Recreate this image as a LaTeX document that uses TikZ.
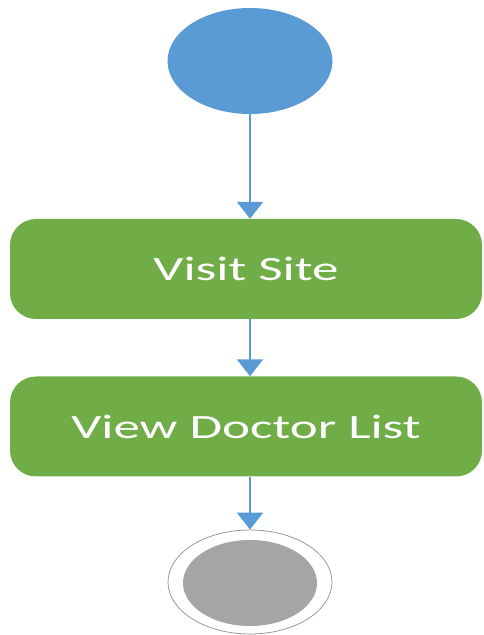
\documentclass[tikz,border=0pt]{standalone}
\usepackage{fontspec}
\setmainfont{Carlito}
\usetikzlibrary{shapes.geometric, arrows.meta}
\definecolor{startblue}{HTML}{5B9BD5}
\definecolor{actgreen}{HTML}{70AD47}
\definecolor{endgray}{HTML}{A5A5A5}
\tikzset{
  initial/.style={
    ellipse, minimum width=165pt, minimum height=106pt, fill=startblue
  },
  activity/.style={
    rectangle, rounded corners=26pt, minimum width=472pt, minimum height=100pt,
    text centered, fill=actgreen, text=white, font=\fontsize{34}{36}\selectfont
  },
  final/.style={
    ellipse, minimum width=164pt, minimum height=104pt, draw=gray!80, line width=0.8pt, fill=white
  },
  finalcore/.style={
    ellipse, minimum width=134pt, minimum height=86pt, fill=endgray
  },
  arrow/.style={
    -{Triangle[width=26pt,length=17pt]}, line width=2pt, color=startblue
  }
}

\begin{document}
\begin{tikzpicture}[x=1pt, y=1pt]
      \useasboundingbox (0,0) rectangle (483,635);

      % Start
      \node[initial] (start) at (250,574) {};

      % Activities
      \node[activity] (visit) at (246,366) {\scalebox{1.56}[1]{Visit Site}};
      \node[activity] (list) at (246,208.5) {\scalebox{1.56}[1]{View Doctor List}};

      % End
      \node[final] (stop) at (250,53) {};
      \node[finalcore] (stopcore) at (250,52) {};

      % Flow
      \draw[arrow] (start.south) -- (start.south |- visit.north);
      \draw[arrow] (start.south |- visit.south) -- (start.south |- list.north);
      \draw[arrow] (start.south |- list.south) -- (stop.north);
    \end{tikzpicture}
\end{document}
